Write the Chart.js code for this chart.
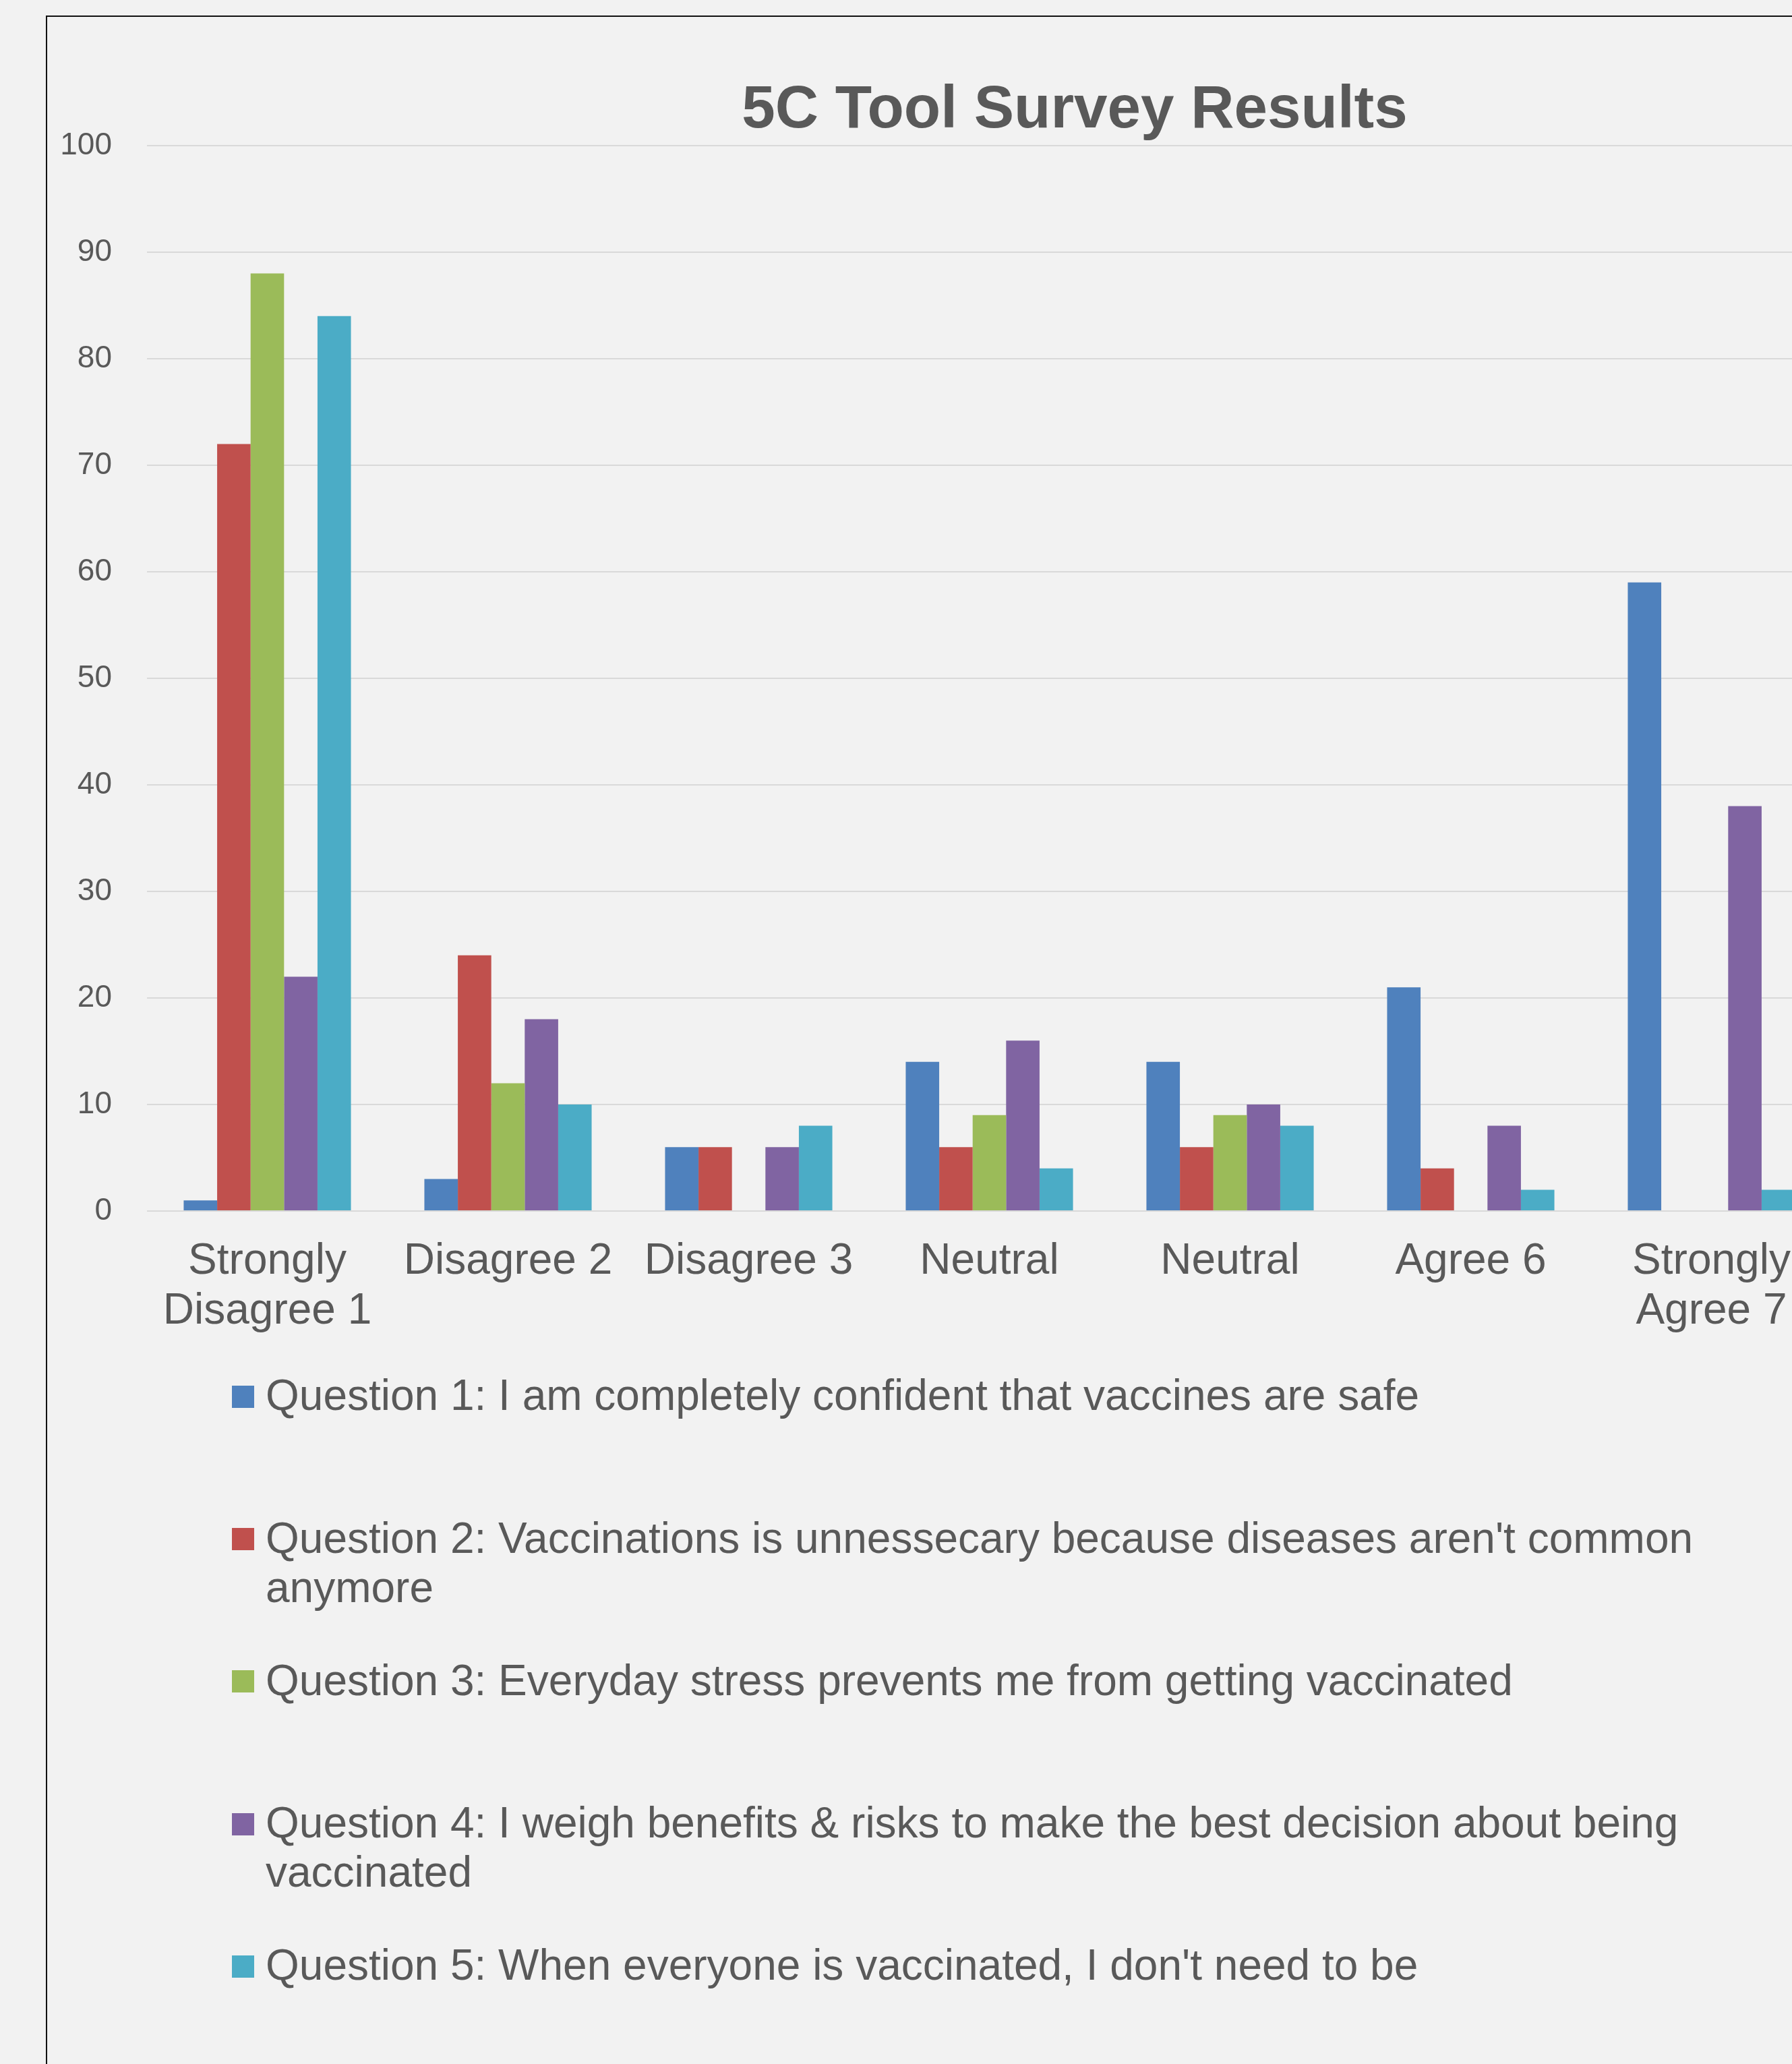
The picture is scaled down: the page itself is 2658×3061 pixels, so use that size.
<!DOCTYPE html>
<html><head><meta charset="utf-8">
<script src="https://cdn.jsdelivr.net/npm/chart.js@4.4.1/dist/chart.umd.min.js"></script>
<style>
html,body{margin:0;padding:0;background:#f2f2f2;overflow:hidden;width:2658px;height:3061px;position:relative;}
#frame{position:absolute;left:68px;top:23px;width:3400px;height:3400px;border:2px solid #111;box-sizing:border-box;}
#chart{position:absolute;left:0;top:0;}
#legend{position:absolute;left:0;top:0;width:2658px;height:3061px;font-family:"Liberation Sans",Arial,sans-serif;font-size:64px;line-height:73px;color:#595959;}
.item{position:absolute;left:394px;width:2180px;white-space:normal;}
.box{position:absolute;left:344px;width:33px;height:33px;}
</style></head>
<body>
<div id="frame"></div>
<canvas id="chart" width="3188" height="1996"></canvas>
<div id="legend"></div>
<script>
const title = '5C Tool Survey Results';
const categories = [['Strongly', 'Disagree 1'], 'Disagree 2', 'Disagree 3', 'Neutral', 'Neutral', 'Agree 6', ['Strongly', 'Agree 7']];
const seriesNames = [
  'Question 1: I am completely confident that vaccines are safe',
  "Question 2: Vaccinations is unnessecary because diseases aren't common anymore",
  'Question 3: Everyday stress prevents me from getting vaccinated',
  'Question 4: I weigh benefits & risks to make the best decision about being vaccinated',
  "Question 5: When everyone is vaccinated, I don't need to be"
];
const q1 = [1, 3, 6, 14, 14, 21, 59];
const q2 = [72, 24, 6, 6, 6, 4, 0];
const q3 = [88, 12, 0, 9, 9, 0, 0];
const q4 = [22, 18, 6, 16, 10, 8, 38];
const q5 = [84, 10, 8, 4, 8, 2, 2];
const colors = ['#4f81bd', '#c0504d', '#9bbb59', '#8064a2', '#4bacc6'];
const yMin = 0, yMax = 100, yStep = 10;

function hasFont(f) {
  const c = document.createElement('canvas').getContext('2d');
  c.font = '50px monospace';
  const a = c.measureText('100 abcW').width;
  c.font = '50px "' + f + '", monospace';
  return c.measureText('100 abcW').width !== a;
}
const narrow = hasFont('Liberation Sans Narrow');
const yTickFont = narrow ? {family: '"Liberation Sans Narrow", "Liberation Sans", sans-serif', size: 53}
                         : {family: '"Liberation Sans", Arial, sans-serif', size: 46};
const sans = '"Liberation Sans", Arial, sans-serif';

const allSeries = [q1, q2, q3, q4, q5];
const chart = new Chart(document.getElementById('chart'), {
  type: 'bar',
  data: {
    labels: categories,
    datasets: allSeries.map((d, i) => ({
      label: seriesNames[i],
      data: d,
      backgroundColor: colors[i],
      borderWidth: 0,
      categoryPercentage: 0.695,
      barPercentage: 1.0
    }))
  },
  options: {
    responsive: false,
    animation: false,
    devicePixelRatio: 1,
    layout: {padding: 0},
    plugins: {
      legend: {display: false},
      tooltip: {enabled: false},
      title: {
        display: true,
        text: title,
        color: '#595959',
        font: {family: sans, size: 89, weight: 'bold', lineHeight: 1},
        padding: {top: 120, bottom: 7}
      }
    },
    scales: {
      x: {
        grid: {display: false, drawTicks: false},
        border: {display: false},
        ticks: {
          color: '#595959',
          font: {family: sans, size: 64, lineHeight: 74 / 64},
          padding: 38,
          autoSkip: false,
          maxRotation: 0,
          minRotation: 0
        },
        afterFit(s) { s.height = 200; }
      },
      y: {
        min: yMin, max: yMax,
        grid: {color: '#d9d9d9', lineWidth: 2, drawTicks: false},
        border: {display: false},
        ticks: {stepSize: yStep, color: '#595959', font: yTickFont, padding: 52},
        afterFit(s) { s.width = 218; }
      },
      spacer: {
        type: 'linear',
        position: 'right',
        display: true,
        grid: {display: false, drawTicks: false},
        border: {display: false},
        ticks: {display: false},
        afterFit(s) { s.width = 471; }
      }
    }
  }
});

// HTML legend built from the chart's own legend items
const legendEl = document.getElementById('legend');
const items = Chart.defaults.plugins.legend.labels.generateLabels(chart);
const firstBaseline = 2092, rowStep = 211.2, baselineInLine = 58.7;
items.forEach((it, i) => {
  const base = firstBaseline + rowStep * i;
  const box = document.createElement('div');
  box.className = 'box';
  box.style.top = (base - 37) + 'px';
  box.style.background = it.fillStyle;
  legendEl.appendChild(box);
  const t = document.createElement('div');
  t.className = 'item';
  t.style.top = (base - baselineInLine) + 'px';
  t.textContent = it.text;
  legendEl.appendChild(t);
});
</script>
</body></html>
